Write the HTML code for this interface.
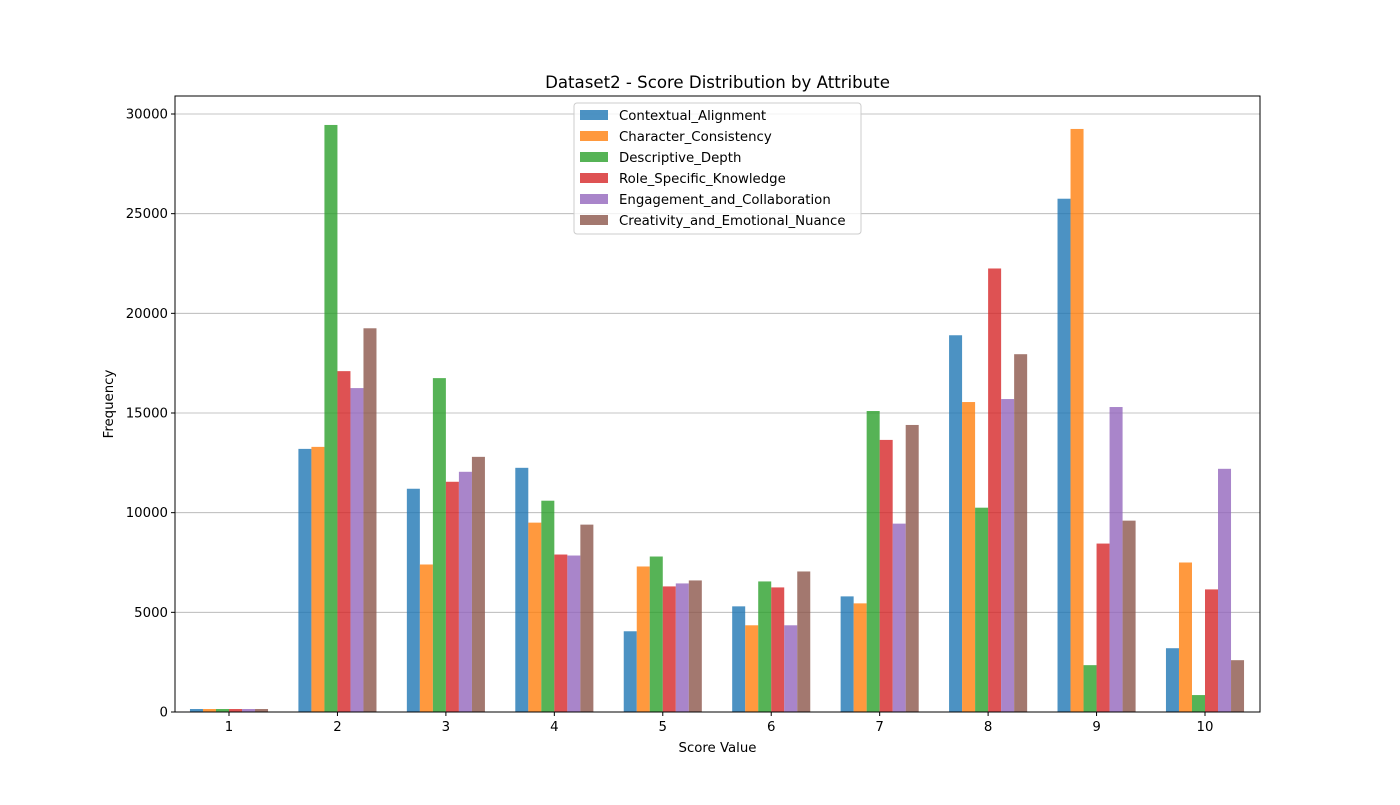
<!DOCTYPE html>
<html><head><meta charset="utf-8"><style>
body{margin:0;background:#fff;}
svg text{font-family:"DejaVu Sans","Liberation Sans",sans-serif;fill:#000;}
</style></head><body>
<svg id="chart" width="1400" height="800" xmlns="http://www.w3.org/2000/svg"></svg>
<script>
const categories=[1,2,3,4,5,6,7,8,9,10];
const seriesNames=["Contextual_Alignment","Character_Consistency","Descriptive_Depth","Role_Specific_Knowledge","Engagement_and_Collaboration","Creativity_and_Emotional_Nuance"];
const contextualAlignment=[150,13200,11200,12250,4050,5300,5800,18900,25750,3200];
const characterConsistency=[150,13300,7400,9500,7300,4350,5450,15550,29250,7500];
const descriptiveDepth=[150,29450,16750,10600,7800,6550,15100,10250,2350,850];
const roleSpecificKnowledge=[150,17100,11550,7900,6300,6250,13650,22250,8450,6150];
const engagementCollaboration=[150,16250,12050,7850,6450,4350,9450,15700,15300,12200];
const creativityNuance=[150,19250,12800,9400,6600,7050,14400,17950,9600,2600];
const yTicks=[0,5000,10000,15000,20000,25000,30000];
const series=[contextualAlignment,characterConsistency,descriptiveDepth,roleSpecificKnowledge,engagementCollaboration,creativityNuance];
const colors=["#1f77b4","#ff7f0e","#2ca02c","#d62728","#9467bd","#8c564b"];
const svg=document.getElementById('chart');const NS="http://www.w3.org/2000/svg";
function mk(t,a,p){const e=document.createElementNS(NS,t);for(const k in a)e.setAttribute(k,a[k]);(p||svg).appendChild(e);return e;}
const L=175,R=1260,T=96,B=712;
const y=v=>B-v*(598/30000);
const x=c=>229+(c-1)*(1205-229)/9;
const unit=(1205-229)/9, bw=unit*0.12;
yTicks.forEach(t=>{
 const g=mk('line',{x1:L,x2:R,y1:y(t),y2:y(t),stroke:'#b0b0b0','stroke-width':0.8});
 
 mk('line',{x1:L-4,x2:L,y1:y(t),y2:y(t),stroke:'#000'});
 const tx=mk('text',{x:L-7,y:y(t)+4.5,'text-anchor':'end','font-size':13.3});tx.textContent=t;
 
});
series.forEach((s,si)=>{s.forEach((v,ci)=>{
 const bx=x(categories[ci])-3*bw+si*bw;
 const r=mk('rect',{x:bx,y:y(v),width:bw,height:B-y(v),fill:colors[si],'fill-opacity':0.8});
 
 
});});
categories.forEach(c=>{
 mk('line',{x1:x(c),x2:x(c),y1:B,y2:B+4,stroke:'#000'});
 const tx=mk('text',{x:x(c),y:B+19,'text-anchor':'middle','font-size':13.3});tx.textContent=c;
 
});
const fr=mk('rect',{x:L,y:T,width:R-L,height:B-T,fill:'none',stroke:'#000','stroke-width':1});

const ti=mk('text',{x:(L+R)/2,y:88,'text-anchor':'middle','font-size':16.6});ti.textContent="Dataset2 - Score Distribution by Attribute";

const xt=mk('text',{x:(L+R)/2,y:752,'text-anchor':'middle','font-size':13.3});xt.textContent="Score Value";

const yt=mk('text',{x:113,y:404,'text-anchor':'middle','font-size':13.3,transform:'rotate(-90 113 404)'});yt.textContent="Frequency";

const lg=mk('g',{});
mk('rect',{x:574,y:103,width:287,height:131,rx:3,fill:'#fff','fill-opacity':0.8,stroke:'#ccc'},lg);
seriesNames.forEach((n,i)=>{
 const yy=115+i*21;
 const sw=mk('rect',{x:580,y:yy-5,width:28,height:10,fill:colors[i],'fill-opacity':0.8},lg);
 
 const t=mk('text',{x:619,y:yy+5,'font-size':13.3},lg);t.textContent=n;
 
});
</script>
</body></html>
